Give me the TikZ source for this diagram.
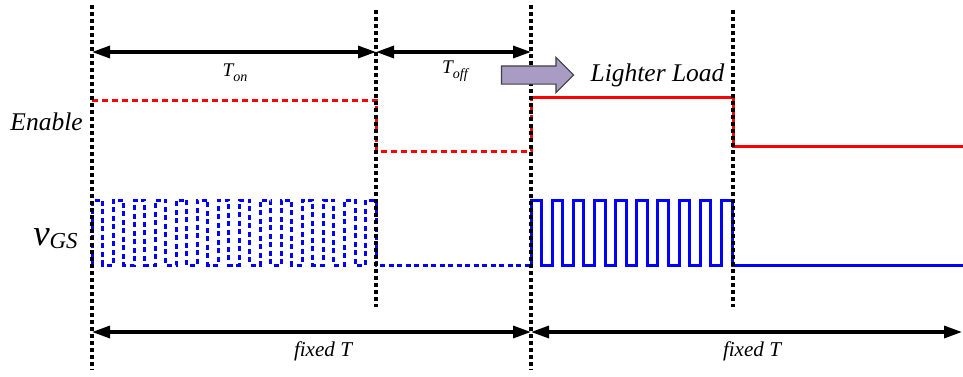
\documentclass[tikz,border=0pt]{standalone}
\usepackage{fontspec}
\setmainfont{Liberation Serif}
\usetikzlibrary{arrows.meta, positioning, shapes.arrows}

\definecolor{lavender}{RGB}{168,155,196}

\begin{document}
\begin{tikzpicture}[>={Triangle[length=0.36cm, width=0.24cm]},
      guide/.style={draw=black, line width=0.07cm, dash pattern=on 0.08cm off 0.06cm},
      dim/.style={<->, line width=0.065cm},
      en/.style={draw=red, line width=0.06cm},
      gate/.style={draw=blue, line width=0.06cm},
      lbl/.style={font=\itshape, inner sep=0pt}]

    \useasboundingbox (0,0) rectangle (19.26,7.52);

    % === time marks ===
    \coordinate (m0top) at (1.84,7.42);   \coordinate (m0bot) at (1.84,0.12);
    \coordinate (m1top) at (7.52,7.32);   \coordinate (m1bot) at (7.52,1.38);
    \coordinate (m2top) at (10.62,7.42);  \coordinate (m2bot) at (10.62,0.12);
    \coordinate (m3top) at (14.66,7.32);  \coordinate (m3bot) at (14.66,1.38);

    % === Enable ===
    \node[lbl, font=\fontsize{14.5}{16}\selectfont\itshape, anchor=base east] (enable) at (1.66,4.92) {Enable};
    \draw[en, dash pattern=on 0.12cm off 0.08cm] (1.84,5.52) -- (7.52,5.52) -- (7.52,4.50)
        -- (10.62,4.50) -- (10.62,5.58);
    \draw[en] (10.62,5.58) -- (14.66,5.58) -- (14.66,4.60) -- (19.26,4.60);

    % === vGS ===
    \node[lbl, font=\fontsize{21}{23}\selectfont\itshape, anchor=base east] (vgs) at (1.56,2.62)
        {v\raisebox{-0.1em}{\fontsize{13}{14}\selectfont GS}};
    \draw[gate, dash pattern=on 0.1cm off 0.07cm] (1.84,2.22)
        \foreach \i in {0,...,13} {-- ++(0,1.30) -- ++(0.2104,0) -- ++(0,-1.30) -- ++(0.2104,0)}
        -- (10.62,2.22);
    \draw[gate] (10.62,2.22)
        \foreach \i in {0,...,9} {-- ++(0,1.30) -- ++(0.2116,0) -- ++(0,-1.30) -- ++(0.2116,0)}
        -- (19.26,2.22);

    % === guides ===
    \foreach \m in {0,...,3}
        \draw[guide] (m\m top) -- (m\m bot);

    % === Ton / Toff ===
    \coordinate (a0) at (1.84,6.48);
    \coordinate (a1) at (7.52,6.48);
    \coordinate (a2) at (10.62,6.48);
    \draw[dim] (a0) -- (a1);
    \draw[dim] (a1) -- (a2);
    \node[lbl, font=\fontsize{11}{12}\selectfont\itshape] (ton) at (4.70,6.06) {T\raisebox{-0.25em}{\fontsize{8}{9}\selectfont on}};
    \node[lbl, font=\fontsize{11}{12}\selectfont\itshape] (toff) at (9.10,6.10) {T\raisebox{-0.25em}{\fontsize{8}{9}\selectfont off}};

    % === Lighter Load ===
    \node[single arrow, draw=black!75, fill=lavender, line width=0.6pt, minimum height=1.44cm,
          inner xsep=0pt, inner ysep=0.17cm, single arrow head extend=0.17cm,
          single arrow tip angle=90] (shift) at (10.66,6.02) {};
    \node[lbl, font=\fontsize{14.5}{16}\selectfont\itshape, right=0.32cm of shift] (lighter) {Lighter Load};

    % === fixed T ===
    \coordinate (b0) at (1.84,0.88);
    \coordinate (b1) at (10.62,0.88);
    \coordinate (b2) at (19.24,0.88);
    \draw[dim] (b0) -- (b1);
    \draw[dim] (b1) -- (b2);
    \node[lbl, font=\fontsize{12}{13}\selectfont\itshape] (fix1) at (6.46,0.50) {fixed T};
    \node[lbl, font=\fontsize{12}{13}\selectfont\itshape] (fix2) at (15.04,0.50) {fixed T};

\end{tikzpicture}
\end{document}
